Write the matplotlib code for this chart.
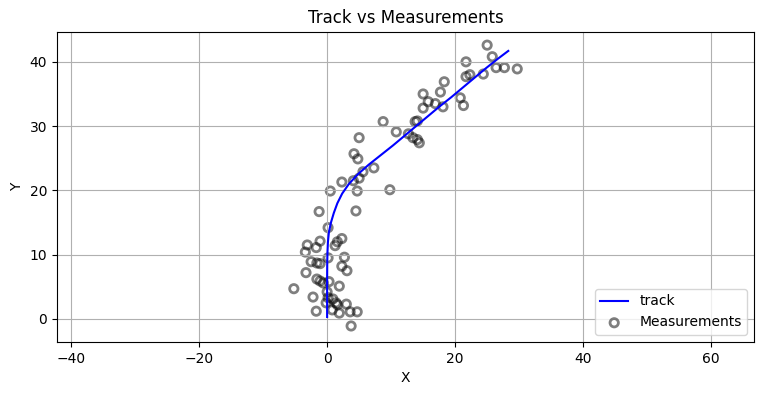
import matplotlib.pyplot as plt
import numpy as np

# track
track_x = [0, 0, 0, 0.02, 0.06, 0.13, 0.28, 0.6, 1.05, 1.6, 2.35, 3.4, 4.8, 6.5,
           8.4, 10.3, 12.1, 13.9, 15.7, 17.5, 19.4, 21.2, 23.0, 24.8, 26.7, 28.3]
track_y = [0.3, 3, 6, 9, 10.5, 12, 13.5, 15, 16.5, 18, 19.5, 21, 22.5, 24,
           25.5, 27, 28.5, 30, 31.5, 33, 34.5, 36, 37.5, 39, 40.5, 41.7]

# measurements
meas_x = [25.0, 25.8, 21.7, 26.4, 27.7, 29.7, 24.4, 22.3, 21.7, 18.3, 17.7, 15.0,
          15.8, 16.9, 18.1, 15.0, 20.8, 21.3, 8.75, 13.75, 14.1, 10.8, 12.7, 13.4,
          14.1, 14.4, 5.0, 4.2, 4.8, 7.3, 5.6, 5.0, 4.1, 2.3, 0.5, 4.7, 9.8, -1.25,
          4.5, 0.15, 2.3, 1.6, 1.25, -1.1, -3.1, -1.7, -3.4, 2.7, 0.15, -2.5, -1.6,
          -1.1, 2.3, 3.1, -3.3, -1.6, -1.1, -0.6, 0.3, 1.9, -5.2, 0.0, -2.2, 0.15,
          0.9, 1.4, 1.6, 3.0, -0.15, -1.7, 0.8, 1.9, 3.6, 4.7, 3.75]
meas_y = [42.6, 40.8, 40.0, 39.1, 39.1, 38.9, 38.1, 38.0, 37.7, 36.9, 35.3, 35.0,
          33.8, 33.5, 33.0, 32.8, 34.4, 33.2, 30.7, 30.7, 30.8, 29.1, 28.8, 28.2,
          27.9, 27.4, 28.2, 25.7, 24.9, 23.5, 22.9, 21.9, 21.5, 21.3, 19.9, 19.9,
          20.1, 16.7, 16.8, 14.2, 12.5, 12.0, 11.4, 12.1, 11.5, 11.1, 10.4, 9.6,
          9.5, 8.9, 8.7, 8.6, 8.2, 7.5, 7.2, 6.2, 5.9, 5.6, 5.8, 5.1, 4.7, 4.2,
          3.4, 3.3, 3.1, 2.5, 2.2, 2.3, 2.5, 1.2, 1.4, 0.9, 1.1, 1.1, -1.1]

fig = plt.figure(figsize=(7.64, 3.93), dpi=100)
ax = fig.add_axes([0.0746, 0.130, 0.9124, 0.789])
ax.plot(track_x, track_y, color='blue', label='track')
ax.scatter(meas_x, meas_y, facecolors='none', edgecolors='k', alpha=0.5,
           linewidths=2, s=36, label='Measurements')
ax.set_xlim(-42.2, 66.7)
ax.set_ylim(-3.58, 44.67)
ax.set_xticks([-40, -20, 0, 20, 40, 60])
ax.grid(True)
ax.set_title('Track vs Measurements')
ax.set_xlabel('X')
ax.set_ylabel('Y')
ax.legend(loc='lower right')
fig.savefig('out.png', dpi=100)
